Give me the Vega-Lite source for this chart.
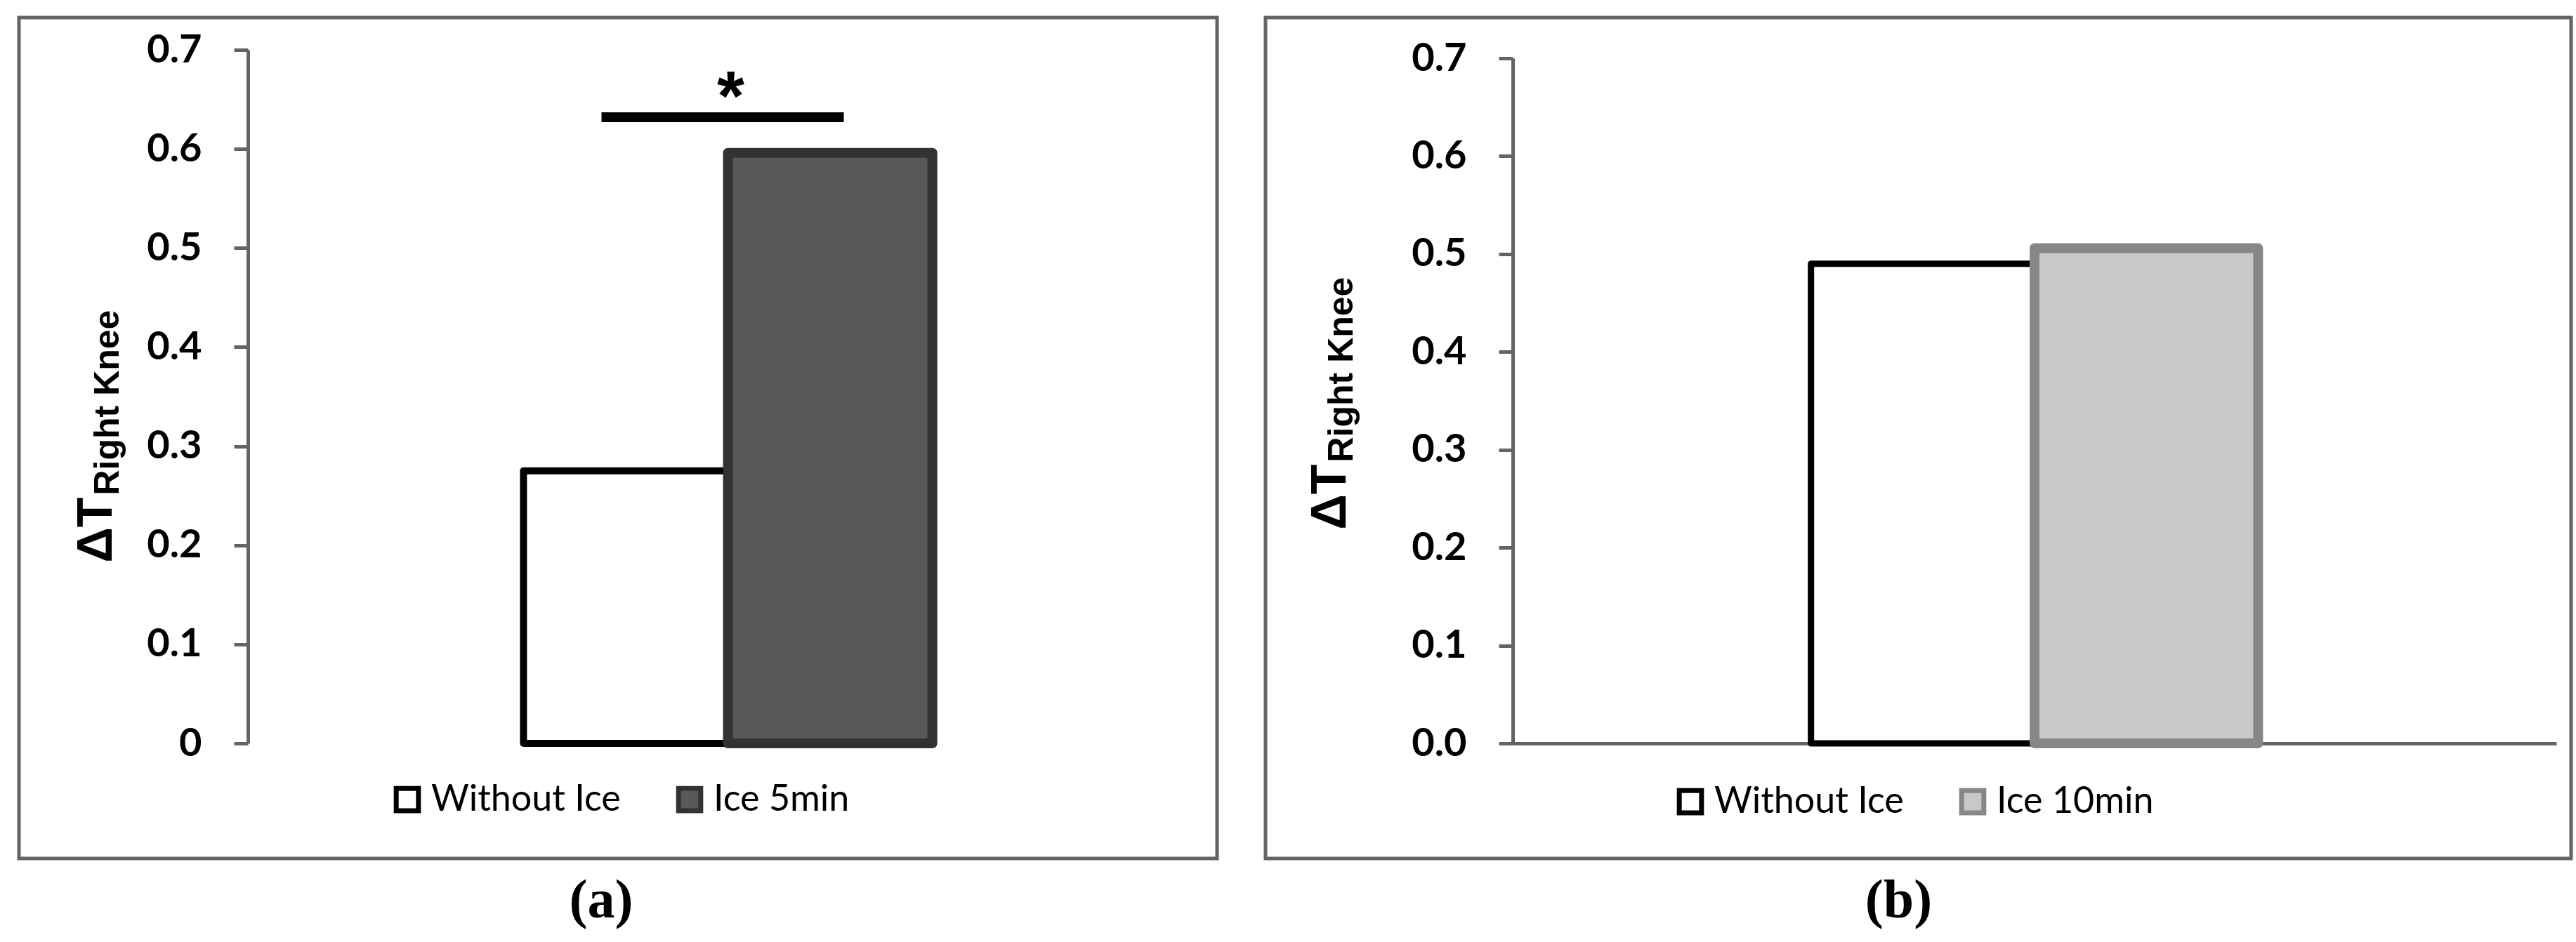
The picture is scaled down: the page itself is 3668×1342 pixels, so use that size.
{
  "$schema": "https://vega.github.io/schema/vega-lite/v6.json",
  "background": "white",
  "padding": {"left": 24, "top": 22, "right": 5, "bottom": 5},
  "spacing": 63,
  "datasets": {
    "bars_a": [
      {"site": "Right Knee", "series": "Without Ice", "value": 0.275},
      {"site": "Right Knee", "series": "Ice 5min", "value": 0.596}
    ],
    "sig_a": [
      {"site": "Right Knee", "y": 0.632, "label": "*"}
    ],
    "bars_b": [
      {"site": "Right Knee", "series": "Without Ice", "value": 0.49},
      {"site": "Right Knee", "series": "Ice 10min", "value": 0.506}
    ]
  },
  "resolve": {"scale": {"fill": "independent", "stroke": "independent", "xOffset": "independent"}},
  "hconcat": [
    {
      "width": 1706,
      "height": 1198,
      "title": {"text": "(a)", "dx": -24},
      "layer": [
        {
          "data": {"name": "bars_a"},
          "transform": [{"filter": "datum.series === 'Without Ice'"}],
          "mark": {"type": "bar", "strokeJoin": "round", "strokeWidth": 10},
          "encoding": {
            "x": {"field": "site", "type": "nominal",
              "scale": {"range": [326, 1693], "paddingInner": 0, "paddingOuter": 0.674},
              "axis": {"offset": -164, "labels": false, "ticks": false, "title": null}},
            "xOffset": {"field": "series", "type": "nominal", "sort": ["Without Ice", "Ice 5min"],
              "scale": {"domain": ["Without Ice", "Ice 5min"], "paddingInner": 0, "paddingOuter": 0}},
            "y": {"field": "value", "type": "quantitative",
              "scale": {"domain": [0, 0.7], "range": [1034, 46], "nice": false, "zero": true},
              "axis": {"orient": "left", "offset": -326, "values": [0, 0.1, 0.2, 0.3, 0.4, 0.5, 0.6, 0.7],
                "labelExpr": "datum.value == 0 ? '0' : format(datum.value, '.1f')",
                "title": "ΔT", "titleX": -195, "titleY": 776, "titleAngle": 270, "titleAlign": "left", "titleBaseline": "alphabetic",
                "titleFont": "Liberation Sans", "titleFontSize": 70, "titleFontWeight": "bold"}},
            "fill": {"field": "series", "type": "nominal",
              "scale": {"domain": ["Without Ice", "Ice 5min"], "range": ["#ffffff", "#595959"]},
              "legend": {"title": null, "legendX": 527, "legendY": 1088}},
            "stroke": {"field": "series", "type": "nominal",
              "scale": {"domain": ["Without Ice", "Ice 5min"], "range": ["#000000", "#333333"]},
              "legend": {"title": null, "legendX": 527, "legendY": 1088}}
          }
        },
        {
          "data": {"name": "bars_a"},
          "transform": [{"filter": "datum.series === 'Ice 5min'"}],
          "mark": {"type": "bar", "strokeJoin": "round", "strokeWidth": 14},
          "encoding": {
            "x": {"field": "site", "type": "nominal",
              "axis": {"offset": -164, "labels": false, "ticks": false, "title": null}},
            "xOffset": {"field": "series", "type": "nominal", "sort": ["Without Ice", "Ice 5min"]},
            "y": {"field": "value", "type": "quantitative",
              "axis": {"orient": "left", "offset": -326, "domain": false, "ticks": false, "labels": false,
                "title": "Right Knee", "titleX": -185, "titleY": 680, "titleAngle": 270, "titleAlign": "left", "titleBaseline": "alphabetic",
                "titleFont": "Liberation Sans", "titleFontSize": 50, "titleFontWeight": "bold"}},
            "fill": {"field": "series", "type": "nominal", "legend": {"title": null, "legendX": 527, "legendY": 1088}},
            "stroke": {"field": "series", "type": "nominal", "legend": {"title": null, "legendX": 527, "legendY": 1088}}
          }
        },
        {
          "data": {"name": "sig_a"},
          "mark": {"type": "rule", "color": "#000000", "strokeWidth": 14, "strokeCap": "butt", "xOffset": -180, "x2Offset": 165},
          "encoding": {
            "x": {"field": "site", "type": "nominal", "axis": null},
            "x2": {"field": "site"},
            "y": {"field": "y", "type": "quantitative", "axis": null}
          }
        },
        {
          "data": {"name": "sig_a"},
          "mark": {"type": "text", "font": "Liberation Sans", "fontWeight": "bold", "fontSize": 100, "color": "#000000", "align": "center", "baseline": "alphabetic", "dx": 4, "dy": 4},
          "encoding": {
            "x": {"field": "site", "type": "nominal", "axis": null},
            "y": {"field": "y", "type": "quantitative", "axis": null},
            "text": {"field": "label"}
          }
        }
      ],
      "resolve": {"axis": {"y": "independent"}}
    },
    {
      "width": 1859,
      "height": 1198,
      "title": {"text": "(b)", "dx": -28},
      "layer": [
        {
          "data": {"name": "bars_b"},
          "transform": [{"filter": "datum.series === 'Without Ice'"}],
          "mark": {"type": "bar", "strokeJoin": "round", "strokeWidth": 9},
          "encoding": {
            "x": {"field": "site", "type": "nominal",
              "scale": {"range": [352, 1838], "paddingInner": 0, "paddingOuter": 0.667},
              "axis": {"offset": -164, "labels": false, "ticks": false, "title": null}},
            "xOffset": {"field": "series", "type": "nominal", "sort": ["Without Ice", "Ice 10min"],
              "scale": {"domain": ["Without Ice", "Ice 10min"], "paddingInner": 0, "paddingOuter": 0}},
            "y": {"field": "value", "type": "quantitative",
              "scale": {"domain": [0, 0.7], "range": [1034, 58], "nice": false, "zero": true},
              "axis": {"orient": "left", "offset": -352, "values": [0, 0.1, 0.2, 0.3, 0.4, 0.5, 0.6, 0.7], "format": ".1f",
                "title": "ΔT", "titleX": -239, "titleY": 729, "titleAngle": 270, "titleAlign": "left", "titleBaseline": "alphabetic",
                "titleFont": "Liberation Sans", "titleFontSize": 70, "titleFontWeight": "bold"}},
            "fill": {"field": "series", "type": "nominal",
              "scale": {"domain": ["Without Ice", "Ice 10min"], "range": ["#ffffff", "#c8c8c8"]},
              "legend": {"title": null, "legendX": 579, "legendY": 1091}},
            "stroke": {"field": "series", "type": "nominal",
              "scale": {"domain": ["Without Ice", "Ice 10min"], "range": ["#000000", "#878787"]},
              "legend": {"title": null, "legendX": 579, "legendY": 1091}}
          }
        },
        {
          "data": {"name": "bars_b"},
          "transform": [{"filter": "datum.series === 'Ice 10min'"}],
          "mark": {"type": "bar", "strokeJoin": "round", "strokeWidth": 14},
          "encoding": {
            "x": {"field": "site", "type": "nominal",
              "axis": {"offset": -164, "labels": false, "ticks": false, "title": null}},
            "xOffset": {"field": "series", "type": "nominal", "sort": ["Without Ice", "Ice 10min"]},
            "y": {"field": "value", "type": "quantitative",
              "axis": {"orient": "left", "offset": -352, "domain": false, "ticks": false, "labels": false,
                "title": "Right Knee", "titleX": -229, "titleY": 633, "titleAngle": 270, "titleAlign": "left", "titleBaseline": "alphabetic",
                "titleFont": "Liberation Sans", "titleFontSize": 50, "titleFontWeight": "bold"}},
            "fill": {"field": "series", "type": "nominal", "legend": {"title": null, "legendX": 579, "legendY": 1091}},
            "stroke": {"field": "series", "type": "nominal", "legend": {"title": null, "legendX": 579, "legendY": 1091}}
          }
        }
      ],
      "resolve": {"axis": {"y": "independent"}}
    }
  ],
  "config": {
    "view": {"stroke": "#646464", "strokeWidth": 5},
    "axis": {
      "grid": false,
      "domainColor": "#646464", "domainWidth": 5,
      "tickColor": "#646464", "tickWidth": 5, "tickSize": 20,
      "labelFont": "Lato", "labelFontWeight": "bold", "labelFontSize": 56, "labelColor": "#000000", "labelPadding": 46,
      "titleColor": "#000000"
    },
    "legend": {
      "orient": "none", "direction": "horizontal",
      "symbolType": "square", "symbolSize": 1000, "symbolStrokeWidth": 7, "symbolOpacity": 1,
      "labelFont": "Lato", "labelFontSize": 52, "labelColor": "#000000", "labelOffset": 8, "labelLimit": 0,
      "columnPadding": 68, "padding": 0
    },
    "title": {
      "orient": "bottom", "anchor": "middle", "font": "Liberation Serif", "fontSize": 78, "fontWeight": "bold",
      "color": "#000000", "offset": 22
    }
  }
}
